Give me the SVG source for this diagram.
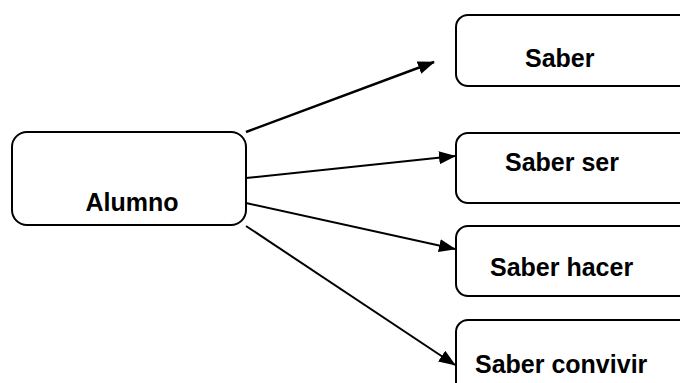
<svg xmlns="http://www.w3.org/2000/svg" width="680" height="383" viewBox="0 0 680 383">
  <style>
    .box { fill: #ffffff; stroke: #000000; stroke-width: 2; }
    .label { font-family: "Liberation Sans", Arial, sans-serif; font-weight: bold; font-size: 25px; fill: #000000; }
    .link { stroke: #000000; stroke-width: 2; fill: none; marker-end: url(#head); }
  </style>
  <defs>
    <marker id="head" markerUnits="userSpaceOnUse" markerWidth="18" markerHeight="14" refX="16" refY="6.5" orient="auto">
      <path d="M0,0 L17,6.5 L0,13 z" fill="#000000"/>
    </marker>
  </defs>
  <rect width="680" height="383" fill="#ffffff"/>

  <g id="connectors">
    <line class="link" x1="246" y1="132" x2="434" y2="62" style="stroke-width:2.5"/>
    <line class="link" x1="246" y1="178" x2="455" y2="156"/>
    <line class="link" x1="246" y1="203" x2="455" y2="249"/>
    <line class="link" x1="246" y1="226" x2="455" y2="365"/>
  </g>

  <g id="alumno">
    <rect class="box" x="12" y="132" width="234" height="93" rx="15"/>
    <text class="label" x="132" y="211" text-anchor="middle">Alumno</text>
  </g>

  <g id="saber">
    <rect class="box" x="456" y="15" width="240" height="71" rx="12"/>
    <text class="label" x="525" y="67">Saber</text>
  </g>

  <g id="saber-ser">
    <rect class="box" x="456" y="133" width="240" height="70" rx="12"/>
    <text class="label" x="505" y="171">Saber ser</text>
  </g>

  <g id="saber-hacer">
    <rect class="box" x="456" y="226" width="240" height="70" rx="12"/>
    <text class="label" x="490" y="276">Saber hacer</text>
  </g>

  <g id="saber-convivir">
    <rect class="box" x="456" y="320" width="240" height="80" rx="12"/>
    <text class="label" x="475" y="373">Saber convivir</text>
  </g>
</svg>
